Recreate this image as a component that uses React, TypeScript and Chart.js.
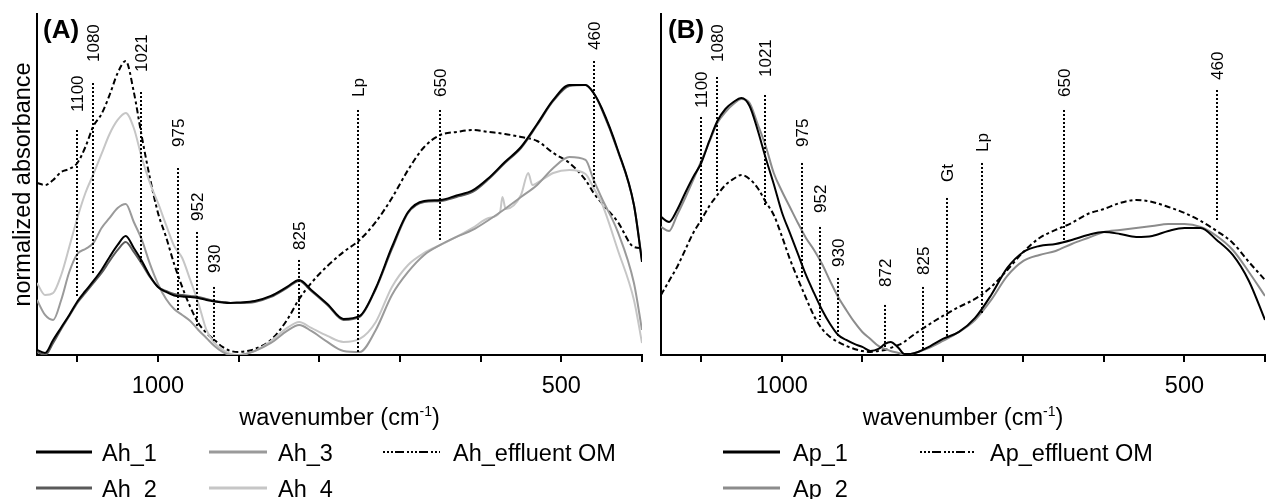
import React, { useEffect, useRef } from 'react';
import { Chart, registerables } from 'chart.js';
Chart.register(...registerables);

const FONT = "'Liberation Sans', Arial, Helvetica, sans-serif";

// ---------- Panel A data (wavenumber cm-1, normalized absorbance, arbitrary units) ----------
const wnA = [1150, 1140, 1130, 1120, 1110, 1100, 1090, 1080, 1070, 1060, 1050, 1040, 1030, 1020, 1010, 1000, 990, 980, 970, 960, 950, 940, 930, 920, 910, 900, 880, 860, 840, 825, 810, 790, 770, 750, 730, 710, 690, 670, 650, 630, 610, 590, 570, 550, 530, 510, 490, 470, 460, 450, 430, 410, 400];
const ah1 = [5, 2, 15, 27.5, 40, 53.5, 64, 74, 85, 98, 110, 119, 107, 94, 79, 68, 63, 59.5, 58.5, 58, 57, 55, 53.5, 52.5, 52, 52.5, 54, 59, 68, 75, 65, 51, 36, 39, 67, 108, 143, 154, 155, 159.5, 164.5, 177, 193, 208, 231, 255, 270, 270, 262, 247, 205, 150, 93];
const ah2 = [3, 0, 12, 26, 39, 52, 62, 72, 82, 94, 105, 113, 103, 91, 78, 68, 64, 61, 60, 59, 58, 56, 54, 53, 52, 52, 53, 58, 67, 74, 64, 50, 35, 38, 66, 106, 142, 153, 154, 158, 163, 176, 192, 207, 230, 254, 269, 270, 262, 246, 204, 150, 95];
const ah3 = [55, 40, 35, 55, 83, 101, 106, 112, 127, 137, 147, 151, 133, 115, 91, 71, 56, 46, 40, 34, 25, 17, 9, 3, 0, 0, 4, 12, 24, 30, 24, 13, 4, 3, 25, 60, 83, 100, 110, 118, 125, 135, 146, 158, 170, 187, 198, 195, 175, 157, 123, 72, 25];
const wnA4 = [1150, 1140, 1130, 1120, 1110, 1100, 1090, 1080, 1070, 1060, 1050, 1040, 1030, 1020, 1010, 1000, 990, 980, 970, 960, 950, 940, 930, 920, 910, 900, 880, 860, 840, 825, 810, 790, 770, 750, 730, 710, 690, 670, 650, 630, 610, 590, 576, 573, 569, 550, 541, 536, 530, 510, 490, 470, 460, 450, 430, 410, 400];
const ah4 = [72, 60, 62, 80, 108, 137, 162, 181, 201, 221, 235, 242, 227, 197, 172, 152, 130, 109, 97, 75, 52, 25, 12, 5, 1, 0, 4, 14, 27, 33, 27, 19, 13, 16, 33, 68, 90, 102, 110, 118, 127, 137, 143, 158, 146, 160, 182, 170, 172, 182, 185, 181, 167, 152, 105, 55, 12];
const ahEff = [172, 170, 175, 183, 186, 192, 208, 229, 241, 260, 282, 294, 263, 218, 177, 142, 118, 91, 68, 48, 32, 22, 15, 8, 4, 3, 6, 15, 35, 56, 72, 89, 103, 115, 133, 157, 185, 208, 220, 223, 225, 223, 221, 218, 214, 202, 192, 175, 162, 152, 133, 108, 107];

// ---------- Panel B data ----------
const wnB = [1150, 1140, 1130, 1120, 1110, 1100, 1090, 1080, 1070, 1060, 1050, 1040, 1030, 1020, 1010, 1000, 990, 980, 970, 960, 950, 940, 930, 920, 910, 900, 890, 880, 872, 865, 855, 848, 840, 820, 800, 780, 760, 740, 720, 700, 680, 660, 640, 620, 600, 580, 560, 540, 520, 500, 480, 460, 440, 420, 400];
const ap1 = [138, 133, 145, 162, 178, 192, 214, 234, 246, 253, 257, 249, 225, 197, 171, 143, 122, 101, 80, 62, 45, 31, 20, 15, 11, 8, 4, 6, 11, 13, 7, 1, 1, 7, 16, 23, 37, 60, 87, 103, 109, 111, 115, 120, 123, 121, 118, 119, 124, 127, 127, 115, 100, 74, 35];
const ap2 = [128, 124, 140, 157, 175, 194, 213, 232, 243, 251, 256, 252, 231, 209, 182, 164, 148, 132, 117, 105, 91, 74, 58, 45, 33, 23, 16, 9, 6, 4, 2, 0, 1, 6, 14, 23, 35, 55, 79, 94, 100, 104, 111, 117, 123, 125, 127, 129, 131, 131, 128, 119, 105, 83, 59];
const apEff = [60, 74, 88, 105, 122, 135, 149, 160, 170, 176, 180, 176, 167, 153, 140, 119, 96, 76, 57, 39, 26, 18, 13, 9, 6, 4, 3, 4, 5, 7, 10, 13, 18, 29, 39, 48, 56, 68, 85, 103, 117, 125, 132, 141, 146, 152, 155, 153, 148, 142, 134, 124, 112, 93, 75];

// ---------- Band markers: [wavenumber, label, line top, line bottom, label start] (y in data units) ----------
type Ann = [number, string, number, number, number];
const bandsA: Ann[] = [
  [1100, '1100', 225, 57, 243],
  [1080, '1080', 272, 82, 293],
  [1021, '1021', 263, 93, 283],
  [975, '975', 187, 43, 208],
  [952, '952', 123, 28, 134],
  [930, '930', 68, 12, 82],
  [825, '825', 95, 35, 105],
  [752, 'Lp', 245, 0, 258],
  [650, '650', 245, 113, 258],
  [460, '460', 294, 168, 305],
];
const bandsB: Ann[] = [
  [1100, '1100', 238, 133, 247],
  [1080, '1080', 278, 162, 293],
  [1021, '1021', 260, 150, 278],
  [975, '975', 192, 78, 208],
  [952, '952', 128, 35, 142],
  [930, '930', 77, 18, 88],
  [872, '872', 50, 8, 68],
  [825, '825', 68, 5, 80],
  [795, 'Gt', 157, 18, 173],
  [752, 'Lp', 192, 42, 203],
  [650, '650', 245, 112, 258],
  [460, '460', 265, 133, 275],
];

const X_MIN = 400;
const X_MAX = 1150;
const Y_MAX = 341;
const labeledTicks = [1000, 500];

const DASH = [6, 3, 3, 3];
const LEG_DASH = [2, 2, 2, 2, 2, 2, 9, 3];

function pts(xs: number[], ys: number[]) {
  return xs.map((x, i) => ({ x, y: ys[i] }));
}

function ds(label: string, xs: number[], ys: number[], color: string, dash: number[] = []) {
  return {
    label,
    data: pts(xs, ys),
    borderColor: color,
    borderWidth: 2,
    borderDash: dash,
    pointRadius: 0,
    fill: false,
    cubicInterpolationMode: 'monotone',
  };
}

interface LegendItem { text: string; color: string; dash: number[]; x1: number; x2: number; tx: number; row: number; }

interface PanelProps {
  left: number;
  width: number;
  padLeft: number;
  padRight: number;
  datasets: any[];
  anns: Ann[];
  letter: string;
  letterX: number;
  yTitle?: string;
  legend: LegendItem[];
}

const ROW_LINE = [452, 488];
const ROW_TEXT = [461, 497];

function Panel(p: PanelProps) {
  const ref = useRef<HTMLCanvasElement>(null);
  useEffect(() => {
    const overlay = {
      id: 'overlay',
      afterDatasetsDraw(chart: any) {
        const ctx = chart.ctx as CanvasRenderingContext2D;
        const xs = chart.scales.x;
        const ys = chart.scales.y;
        ctx.save();
        for (const [wn, text, top, bottom, lab] of p.anns) {
          const px = Math.round(xs.getPixelForValue(wn));
          ctx.strokeStyle = '#000';
          ctx.lineWidth = 2;
          ctx.setLineDash([2, 2]);
          ctx.beginPath();
          ctx.moveTo(px, ys.getPixelForValue(top));
          ctx.lineTo(px, ys.getPixelForValue(bottom));
          ctx.stroke();
          ctx.save();
          ctx.translate(px + 6, ys.getPixelForValue(lab));
          ctx.rotate(-Math.PI / 2);
          ctx.font = `17px ${FONT}`;
          ctx.fillStyle = '#000';
          ctx.textAlign = 'left';
          ctx.textBaseline = 'alphabetic';
          ctx.fillText(text, 0, 0);
          ctx.restore();
        }
        ctx.restore();
      },
      afterDraw(chart: any) {
        const ctx = chart.ctx as CanvasRenderingContext2D;
        const area = chart.chartArea;
        ctx.save();
        ctx.fillStyle = '#000';
        // panel letter
        ctx.font = `bold 26px ${FONT}`;
        ctx.textAlign = 'left';
        ctx.textBaseline = 'alphabetic';
        ctx.fillText(p.letter, p.letterX - p.left, 38);
        // y title
        if (p.yTitle) {
          ctx.save();
          ctx.translate(30 - p.left, (area.top + area.bottom) / 2);
          ctx.rotate(-Math.PI / 2);
          ctx.font = `23.5px ${FONT}`;
          ctx.textAlign = 'center';
          ctx.fillText(p.yTitle, 0, 0);
          ctx.restore();
        }
        // x title with superscript
        const big = `23.5px ${FONT}`;
        const small = `14px ${FONT}`;
        const a = 'wavenumber (cm';
        const sup = '-1';
        const b = ')';
        ctx.font = big;
        const wa = ctx.measureText(a).width;
        const wb = ctx.measureText(b).width;
        ctx.font = small;
        const ws = ctx.measureText(sup).width;
        const cx = (area.left + area.right) / 2;
        const x0 = cx - (wa + ws + wb) / 2;
        const base = 425;
        ctx.textAlign = 'left';
        ctx.font = big;
        ctx.fillText(a, x0, base);
        ctx.font = small;
        ctx.fillText(sup, x0 + wa, base - 9);
        ctx.font = big;
        ctx.fillText(b, x0 + wa + ws, base);
        // legend
        for (const it of p.legend) {
          const yl = ROW_LINE[it.row];
          ctx.strokeStyle = it.color;
          ctx.lineWidth = it.dash.length ? 2 : 3;
          ctx.setLineDash(it.dash);
          ctx.beginPath();
          ctx.moveTo(it.x1 - p.left, yl);
          ctx.lineTo(it.x2 - p.left, yl);
          ctx.stroke();
          ctx.setLineDash([]);
          ctx.font = big;
          ctx.fillStyle = '#000';
          ctx.fillText(it.text, it.tx - p.left, ROW_TEXT[it.row]);
        }
        ctx.restore();
      },
    };

    const chart = new Chart(ref.current as HTMLCanvasElement, {
      type: 'line',
      data: { datasets: p.datasets },
      plugins: [overlay],
      options: {
        responsive: false,
        animation: false,
        events: [],
        layout: { padding: { left: p.padLeft, right: p.padRight, top: 14, bottom: 87 } },
        plugins: { legend: { display: false }, tooltip: { enabled: false } },
        scales: {
          x: {
            type: 'linear',
            reverse: true,
            min: X_MIN,
            max: X_MAX,
            ticks: {
              stepSize: 100,
              includeBounds: false,
              autoSkip: false,
              maxRotation: 0,
              padding: 0,
              color: '#000',
              font: { family: FONT, size: 23.5, lineHeight: 2.13 },
              callback: (v: any) => (labeledTicks.includes(Number(v)) ? String(v) : ''),
            },
            grid: { drawOnChartArea: false, drawTicks: true, tickLength: 7, color: '#000', lineWidth: 2 },
            border: { display: true, color: '#000', width: 2 },
          },
          y: {
            type: 'linear',
            min: 0,
            max: Y_MAX,
            ticks: { display: false },
            grid: { display: false, drawTicks: false },
            border: { display: true, color: '#000', width: 2 },
          },
        },
      } as any,
    });
    return () => chart.destroy();
  }, []);
  return (
    <canvas
      ref={ref}
      width={p.width}
      height={499}
      style={{ position: 'absolute', left: p.left, top: 0, width: p.width, height: 499 }}
    />
  );
}

export default function App() {
  const dsA = [
    ds('Ah_1', wnA, ah1, '#000000'),
    ds('Ah_2', wnA, ah2, '#5a5a5a'),
    ds('Ah_3', wnA, ah3, '#9a9a9a'),
    ds('Ah_4', wnA4, ah4, '#c6c6c6'),
    ds('Ah_effluent OM', wnA, ahEff, '#000000', DASH),
  ];
  const dsB = [
    ds('Ap_1', wnB, ap1, '#000000'),
    ds('Ap_2', wnB, ap2, '#8c8c8c'),
    ds('Ap_effluent OM', wnB, apEff, '#000000', DASH),
  ];
  const legA: LegendItem[] = [
    { text: 'Ah_1', color: '#000000', dash: [], x1: 36, x2: 92, tx: 102, row: 0 },
    { text: 'Ah_2', color: '#5a5a5a', dash: [], x1: 36, x2: 92, tx: 102, row: 1 },
    { text: 'Ah_3', color: '#9a9a9a', dash: [], x1: 209, x2: 267, tx: 278, row: 0 },
    { text: 'Ah_4', color: '#c6c6c6', dash: [], x1: 209, x2: 267, tx: 278, row: 1 },
    { text: 'Ah_effluent OM', color: '#000000', dash: LEG_DASH, x1: 383, x2: 440, tx: 453, row: 0 },
  ];
  const legB: LegendItem[] = [
    { text: 'Ap_1', color: '#000000', dash: [], x1: 723, x2: 780, tx: 793, row: 0 },
    { text: 'Ap_2', color: '#8c8c8c', dash: [], x1: 723, x2: 780, tx: 793, row: 1 },
    { text: 'Ap_effluent OM', color: '#000000', dash: LEG_DASH, x1: 920, x2: 975, tx: 990, row: 0 },
  ];
  return (
    <div style={{ position: 'fixed', left: 0, top: 0, width: 1274, height: 499, background: '#fff', overflow: 'hidden' }}>
      <Panel left={0} width={645} padLeft={37} padRight={3} datasets={dsA} anns={bandsA} letter="(A)" letterX={43} yTitle="normalized absorbance" legend={legA} />
      <Panel left={645} width={629} padLeft={16} padRight={9} datasets={dsB} anns={bandsB} letter="(B)" letterX={668} legend={legB} />
    </div>
  );
}
